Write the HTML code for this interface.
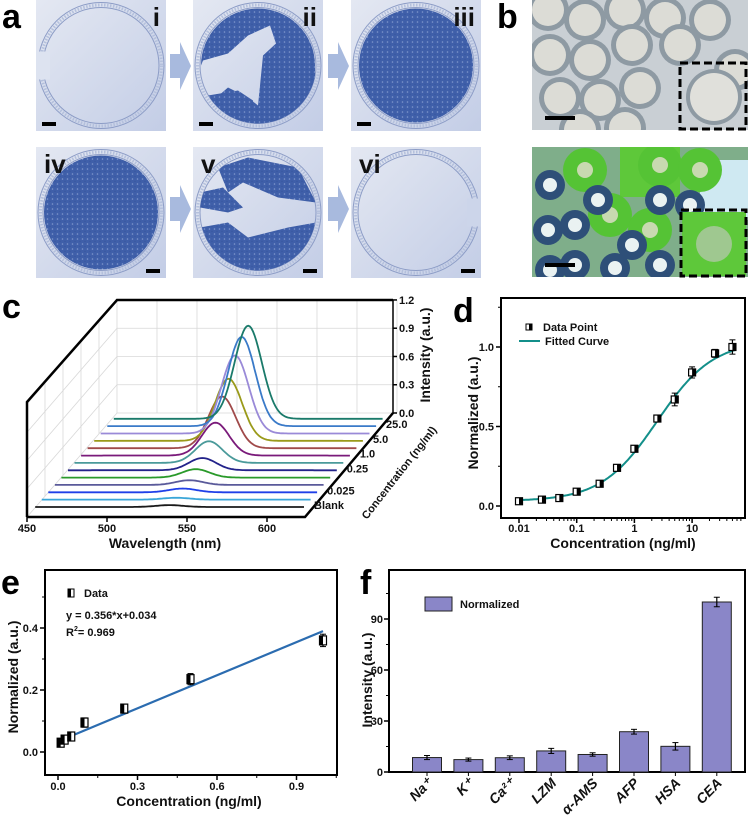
<!DOCTYPE html>
<html><head><meta charset="utf-8">
<style>
html,body{margin:0;padding:0;background:#fff}
svg{display:block;font-family:"Liberation Sans",Arial,sans-serif}
.t{font-weight:bold;font-size:11px;fill:#111}
.ttl{font-weight:bold;font-size:14px;fill:#111}
.lbl{font-weight:bold;font-size:34px;fill:#000}
</style></head>
<body>
<svg id="fig" width="749" height="819" viewBox="0 0 749 819" xmlns="http://www.w3.org/2000/svg">
<defs>
<linearGradient id="bg" x1="0" y1="0" x2="1" y2="1"><stop offset="0" stop-color="#e4e8f2"/><stop offset="1" stop-color="#c3cde6"/></linearGradient>
<pattern id="dots" width="5" height="5" patternUnits="userSpaceOnUse"><rect width="5" height="5" fill="#3f5fa9"/><circle cx="1.5" cy="1.5" r="0.8" fill="#7f97cc"/><circle cx="4" cy="3.8" r="0.5" fill="#2d4c94"/></pattern>
<clipPath id="cl1"><circle cx="0" cy="0" r="58"/></clipPath>
<clipPath id="bt"><rect x="532" y="0" width="216" height="130"/></clipPath>
<clipPath id="bb"><rect x="532" y="147" width="216" height="130"/></clipPath>
</defs>
<g id="panelA"></g>
<g id="panelB"></g>
<g id="panelC"></g>
<g id="panelD"></g>
<g id="panelE"></g>
<g id="panelF"></g>
<text class="lbl" x="2" y="28">a</text>
<text class="lbl" x="497" y="28">b</text>
<text class="lbl" x="2" y="318">c</text>
<text class="lbl" x="453" y="322">d</text>
<text class="lbl" x="1" y="594">e</text>
<text class="lbl" x="360" y="594">f</text>
</svg>
<script>
const NS="http://www.w3.org/2000/svg";
function mk(parent,tag,attrs,text){const e=document.createElementNS(NS,tag);for(const k in attrs)e.setAttribute(k,attrs[k]);if(text!==undefined)e.textContent=text;parent.appendChild(e);return e;}

// ---------- data ----------
const concLabels=["Blank","0.01","0.025","0.05","0.1","0.25","0.5","1.0","2.5","5.0","10","25.0","50"];
const peakHeights=[0.02,0.02,0.04,0.05,0.09,0.13,0.23,0.35,0.55,0.66,0.83,0.95,0.99];
const spectraColors=["#1a1a1a","#3aa6d8","#2040e8","#5a5a9a","#2a9a2a","#23238a","#4a9a9a","#7a1a7a","#a04a4a","#9a9a1a","#9a8ad8","#3a7ac8","#1a7a6a"];
const wlTicks=[450,500,550,600];
const intTicks=[0.0,0.3,0.6,0.9,1.2];

const dConc=[0.01,0.025,0.05,0.1,0.25,0.5,1,2.5,5,10,25,50];
const dVals=[0.03,0.04,0.05,0.09,0.14,0.24,0.36,0.55,0.67,0.84,0.96,1.0];
const dErr=[0.015,0.015,0.015,0.015,0.015,0.02,0.02,0.02,0.04,0.035,0.025,0.045];
const dFit=[0.03,1.04,2.5,0.9]; // A1, A2, x0, p
const dXTicks=[0.01,0.1,1,10];
const dXTickLabels=["0.01","0.1","1","10"];
const dYTicks=[0.0,0.5,1.0];

const eConc=[0.01,0.025,0.05,0.1,0.25,0.5,1.0];
const eVals=[0.03,0.04,0.05,0.095,0.14,0.235,0.36];
const eErr=[0.012,0.012,0.012,0.015,0.012,0.018,0.02];
const eFit=[0.356,0.034];
const eXTicks=[0.0,0.3,0.6,0.9];
const eYTicks=[0.0,0.2,0.4];

const fCats=["Na⁺","K⁺","Ca²⁺","LZM","α-AMS","AFP","HSA","CEA"];
const fVals=[8.5,7.3,8.4,12.4,10.3,23.7,15.1,100];
const fErr=[1.2,0.9,1.1,1.5,1.0,1.4,2.2,2.8];
const fYTicks=[0,30,60,90];

// ---------- panel a ----------
(function(){
 const g=document.getElementById('panelA');
 const xs=[36,193,351], ys=[0,147];
 const labels=["i","ii","iii","iv","v","vi"];
 const fills=["none","partial","full","full","partial2","none"];
 for(let r=0;r<2;r++)for(let c=0;c<3;c++){
  const idx=r*3+c,x=xs[c],y=ys[r],w=130,h=131;
  const im=mk(g,'g',{});
  
  
  mk(im,'rect',{x:x,y:y,width:w,height:h,fill:'url(#bg)'});
  const cx=x+w/2,cy=y+h/2;
  mk(im,'circle',{cx:cx,cy:cy,r:63,fill:'none',stroke:'#8c9cc6','stroke-width':1});
  mk(im,'circle',{cx:cx,cy:cy,r:58,fill:'none',stroke:'#8c9cc6','stroke-width':1});
  mk(im,'circle',{cx:cx,cy:cy,r:60.5,fill:'none',stroke:'#b4c0dc','stroke-width':3,'stroke-dasharray':'1.5 1.5'});
  if(idx===0){mk(im,'rect',{x:x,y:cy-14,width:14,height:28,fill:'#dde3f0'});}
  if(idx===5){mk(im,'rect',{x:x+w-14,y:cy-14,width:14,height:28,fill:'#ccd5ea'});}
  const gg=mk(im,'g',{transform:`translate(${cx},${cy})`});
  if(fills[idx]==='full'){mk(gg,'circle',{cx:0,cy:0,r:57,fill:'url(#dots)'});}
  if(fills[idx]==='partial'){
   mk(gg,'path',{d:'M-57,0 A57,57 0 0 1 57,0 L57,20 A57,57 0 0 1 -45,35 L-30,22 L-10,32 L0,40 L5,-10 L18,-22 L12,-40 L-10,-30 L-30,-12 L-55,-5 Z',fill:'url(#dots)','clip-path':'url(#cl1)'});
   mk(gg,'path',{d:'M-50,30 L-20,25 L-5,35 L-5,55 L-40,50 Z',fill:'url(#dots)','clip-path':'url(#cl1)'});
  }
  if(fills[idx]==='partial2'){
   mk(gg,'path',{d:'M-40,-45 L-10,-55 L40,-45 L58,-10 L20,-15 L-15,-30 L-30,-20 Z',fill:'url(#dots)','clip-path':'url(#cl1)'});
   mk(gg,'path',{d:'M-58,-20 L-35,-25 L-15,-5 L-30,0 L-58,-5 Z',fill:'url(#dots)','clip-path':'url(#cl1)'});
   mk(gg,'path',{d:'M-58,15 L-30,10 L-10,25 L30,15 L58,10 L58,60 L-58,60 Z',fill:'url(#dots)','clip-path':'url(#cl1)'});
  }
  const tl=mk(im,'text',{x:r===0?x+w-6:x+8,y:y+26,'text-anchor':r===0?'end':'start','font-size':26,'font-weight':'bold',fill:'#111'},labels[idx]);
  
  
  const sb=mk(im,'rect',{x:r===0?x+6:x+w-20,y:y+h-9,width:14,height:4,fill:'#000'});
  
  
 }
 for(let r=0;r<2;r++)for(let c=0;c<2;c++){
  const ax=[170,328][c],ay=[66,209][r];
  const ar=mk(g,'path',{d:`M${ax},${ay-12} L${ax+10},${ay-12} L${ax+10},${ay-24} L${ax+21},${ay} L${ax+10},${ay+24} L${ax+10},${ay+12} L${ax},${ay+12} Z`,fill:'#a8bade'});
  
  
 }
})();

// ---------- panel b ----------
(function(){
 const g=document.getElementById('panelB');
 const top=mk(g,'g',{'clip-path':'url(#bt)'});
 
 
 mk(top,'rect',{x:532,y:0,width:216,height:130,fill:'#c9cfd4'});
 const bpos=[[548,10],[585,20],[625,10],[665,18],[710,20],[550,55],[590,60],[632,45],[680,45],[560,98],[600,100],[640,88],[580,130],[625,128],[735,70]];
 bpos.forEach(p=>{mk(top,'circle',{cx:p[0],cy:p[1],r:21,fill:'#8e9aa3'});mk(top,'circle',{cx:p[0],cy:p[1],r:16,fill:'#dcdcd6'});});
 mk(top,'circle',{cx:714,cy:97,r:28,fill:'#8e9aa3'});mk(top,'circle',{cx:714,cy:97,r:24,fill:'#e0e0db'});
 const bot=mk(g,'g',{'clip-path':'url(#bb)'});
 
 
 mk(bot,'rect',{x:532,y:147,width:216,height:130,fill:'#7fae8a'});
 mk(bot,'rect',{x:700,y:160,width:48,height:60,fill:'#cfe9f2'});
 mk(bot,'rect',{x:620,y:147,width:60,height:50,fill:'#5ec83a'});
 const gpos=[[585,170],[660,165],[700,170],[610,215],[650,230]];
 gpos.forEach(p=>{mk(bot,'circle',{cx:p[0],cy:p[1],r:22,fill:'#55c335'});mk(bot,'circle',{cx:p[0],cy:p[1],r:8,fill:'#c8d9b0'});});
 const dpos=[[550,185],[548,230],[575,225],[598,200],[632,245],[660,200],[690,205],[575,265],[615,268],[660,265],[700,235],[550,270]];
 dpos.forEach(p=>{mk(bot,'circle',{cx:p[0],cy:p[1],r:15,fill:'#2e4f78'});mk(bot,'circle',{cx:p[0],cy:p[1],r:7,fill:'#eaf2f2'});});
 mk(bot,'rect',{x:682,y:212,width:64,height:64,fill:'#5ec83a'});
 mk(bot,'circle',{cx:714,cy:244,r:18,fill:'#9fc890'});
 const bx1=mk(g,'rect',{x:680,y:63,width:66,height:66,fill:'none',stroke:'#000','stroke-width':3,'stroke-dasharray':'8 4'});
 
 
 const bx2=mk(g,'rect',{x:681,y:210,width:65,height:66,fill:'none',stroke:'#000','stroke-width':3,'stroke-dasharray':'8 4'});
 
 
 mk(g,'rect',{x:545,y:116,width:30,height:4,fill:'#000'});
 mk(g,'rect',{x:545,y:263,width:30,height:4,fill:'#000'});
})();

// ---------- panel c ----------
(function(){
 const g=document.getElementById('panelC');
 const X=(wl,i)=>32+(wl-450)*1.6+i*6.55;
 const Y=(v,i)=>507-i*7.35-v*94;
 const grid=mk(g,'g',{stroke:'#d8d8d8','stroke-width':0.8,fill:'none'});
 for(let wl=450;wl<=625;wl+=25){const x=117+(wl-450)*1.6;mk(grid,'line',{x1:x,y1:300,x2:x,y2:413});}
 intTicks.forEach(v=>{const y=413-v*94.2;mk(grid,'line',{x1:117,y1:y,x2:393,y2:y});mk(grid,'line',{x1:117,y1:y,x2:27,y2:y+104});});
 for(let k=1;k<5;k++){const x=117-k*18,y=413+k*20.8;mk(grid,'line',{x1:x,y1:y,x2:x,y2:y-113});}
 const fr=mk(g,'g',{stroke:'#000','stroke-width':2.5,fill:'none'});
 mk(fr,'path',{d:'M27,517 L27,402 L117,300 L393,300'});
 mk(fr,'path',{d:'M27,517 L305,517 L393,413'});
 mk(g,'line',{x1:393,y1:300,x2:393,y2:413,stroke:'#000','stroke-width':1.5});
 wlTicks.forEach(wl=>{const x=27+(wl-450)*1.6;mk(g,'line',{x1:x,y1:517,x2:x,y2:522,stroke:'#000','stroke-width':1.5});
  const t=mk(g,'text',{x:x,y:532,'text-anchor':'middle',class:'t','font-size':12},String(wl));
  
  });
 intTicks.forEach(v=>{const y=413-v*94.2;mk(g,'line',{x1:393,y1:y,x2:397,y2:y,stroke:'#000','stroke-width':1.5});
  const t=mk(g,'text',{x:399,y:y+4,class:'t'},v.toFixed(1));
  
  });
 for(let i=0;i<peakHeights.length;i++){
  let d='';
  for(let wl=452;wl<=620;wl+=1){
   const v=peakHeights[i]*Math.exp(-Math.pow(wl-536,2)/(2*8.5*8.5));
   d+=(wl===452?'M':'L')+X(wl,i).toFixed(1)+','+Y(v,i).toFixed(1);
  }
  const p=mk(g,'path',{d:d,fill:'none',stroke:spectraColors[i],'stroke-width':1.8});
  
  
 }
 const cl=[[0,"Blank","#222"],[2,"0.025","#2040e8"],[5,"0.25","#23238a"],[7,"1.0","#7a1a7a"],[9,"5.0","#9a9a1a"],[11,"25.0","#3a7ac8"]];
 cl.forEach(c=>{const t=mk(g,'text',{x:X(620,c[0])+10,y:Y(0,c[0])+2,class:'t','font-size':10,fill:c[2]},c[1]);
  
  });
 const xt=mk(g,'text',{x:165,y:548,'text-anchor':'middle',class:'ttl'},'Wavelength (nm)');
 
 
 const zt=mk(g,'text',{x:0,y:0,'text-anchor':'middle',class:'ttl','font-size':13,transform:'translate(430,355) rotate(-90)'},'Intensity (a.u.)');
 
 
 const yt=mk(g,'text',{x:0,y:0,'text-anchor':'middle',class:'t','font-size':9,transform:'translate(402,475) rotate(-52)'},'Concentration (ng/ml)');
 
 
})();

// ---------- panel d ----------
(function(){
 const g=document.getElementById('panelD');
 const L=501,T=298,R=745,B=518;
 const sx=c=>519+(Math.log10(c)+2)*57.7;
 const sy=v=>506-v*159;
 mk(g,'rect',{x:L,y:T,width:R-L,height:B-T,fill:'none',stroke:'#000','stroke-width':2});
 dXTicks.forEach((c,k)=>{const x=sx(c);mk(g,'line',{x1:x,y1:B,x2:x,y2:B+5,stroke:'#000','stroke-width':1.5});
  for(let m=2;m<10&&c*m<=70;m++){const xm=sx(c*m);if(xm<R)mk(g,'line',{x1:xm,y1:B,x2:xm,y2:B+3,stroke:'#000'});}
  const t=mk(g,'text',{x:x,y:B+14,'text-anchor':'middle',class:'t'},dXTickLabels[k]);
  
  });
 dYTicks.forEach(v=>{const y=sy(v);mk(g,'line',{x1:L-5,y1:y,x2:L,y2:y,stroke:'#000','stroke-width':1.5});
  const t=mk(g,'text',{x:L-7,y:y+4,'text-anchor':'end',class:'t'},v.toFixed(1));
  
  });
 [0.25,0.75,1.25].forEach(v=>mk(g,'line',{x1:L-3,y1:sy(v),x2:L,y2:sy(v),stroke:'#000'}));
 let d='';
 for(let k=0;k<=200;k++){const lc=-2+k*(Math.log10(55)+2)/200;const c=Math.pow(10,lc);
  const v=dFit[1]+(dFit[0]-dFit[1])/(1+Math.pow(c/dFit[2],dFit[3]));
  d+=(k?'L':'M')+sx(c).toFixed(1)+','+sy(v).toFixed(1);}
 const fc=mk(g,'path',{d:d,fill:'none',stroke:'#138f8a','stroke-width':2});
 
 
 dConc.forEach((c,k)=>{const x=sx(c),y=sy(dVals[k]),e=dErr[k]*159;
  const pt=mk(g,'g',{});
  
  
  mk(pt,'line',{x1:x,y1:y-e,x2:x,y2:y+e,stroke:'#000','stroke-width':1.2});
  mk(pt,'line',{x1:x-3,y1:y-e,x2:x+3,y2:y-e,stroke:'#000'});mk(pt,'line',{x1:x-3,y1:y+e,x2:x+3,y2:y+e,stroke:'#000'});
  mk(pt,'rect',{x:x-3.5,y:y-3.5,width:7,height:7,fill:'#fff',stroke:'#000','stroke-width':1.2});
  mk(pt,'rect',{x:x,y:y-3.5,width:3.5,height:7,fill:'#000'});});
 const lg=mk(g,'g',{});
 
 
 mk(lg,'rect',{x:526,y:324,width:6,height:6,fill:'#fff',stroke:'#000'});mk(lg,'rect',{x:529,y:324,width:3,height:6,fill:'#000'});
 mk(lg,'text',{x:543,y:331,class:'t'},'Data Point');
 mk(lg,'line',{x1:519,y1:341,x2:540,y2:341,stroke:'#138f8a','stroke-width':2});
 mk(lg,'text',{x:545,y:345,class:'t'},'Fitted Curve');
 const xt=mk(g,'text',{x:623,y:548,'text-anchor':'middle',class:'ttl'},'Concentration (ng/ml)');
 
 
 const yt=mk(g,'text',{x:0,y:0,'text-anchor':'middle',class:'ttl',transform:'translate(478,413) rotate(-90)'},'Normalized (a.u.)');
 
 
})();

// ---------- panel e ----------
(function(){
 const g=document.getElementById('panelE');
 const L=45,T=570,R=337,B=775;
 const sx=c=>58+c*265;
 const sy=v=>752-v*310;
 mk(g,'rect',{x:L,y:T,width:R-L,height:B-T,fill:'none',stroke:'#000','stroke-width':2});
 eXTicks.forEach(c=>{const x=sx(c);mk(g,'line',{x1:x,y1:B,x2:x,y2:B+5,stroke:'#000','stroke-width':1.5});
  mk(g,'line',{x1:sx(c+0.15),y1:B,x2:sx(c+0.15),y2:B+3,stroke:'#000'});
  const t=mk(g,'text',{x:x,y:B+15,'text-anchor':'middle',class:'t'},c.toFixed(1));
  
  });
 eYTicks.forEach(v=>{const y=sy(v);mk(g,'line',{x1:L-5,y1:y,x2:L,y2:y,stroke:'#000','stroke-width':1.5});
  mk(g,'line',{x1:L-3,y1:sy(v+0.1),x2:L,y2:sy(v+0.1),stroke:'#000'});
  const t=mk(g,'text',{x:L-7,y:y+4,'text-anchor':'end',class:'t'},v.toFixed(1));
  
  });
 const fl=mk(g,'line',{x1:sx(0.01),y1:sy(eFit[1]+eFit[0]*0.01),x2:sx(1.0),y2:sy(eFit[1]+eFit[0]*1.0),stroke:'#2b6cb0','stroke-width':2.2});
 
 
 eConc.forEach((c,k)=>{const x=sx(c),y=sy(eVals[k]),e=eErr[k]*310;
  const pt=mk(g,'g',{});
  
  
  mk(pt,'line',{x1:x,y1:y-e,x2:x,y2:y+e,stroke:'#000','stroke-width':1.2});
  mk(pt,'line',{x1:x-3,y1:y-e,x2:x+3,y2:y-e,stroke:'#000'});mk(pt,'line',{x1:x-3,y1:y+e,x2:x+3,y2:y+e,stroke:'#000'});
  mk(pt,'rect',{x:x-3.5,y:y-4.5,width:7,height:9,fill:'#fff',stroke:'#000','stroke-width':1.2});
  mk(pt,'rect',{x:x-3.5,y:y-4.5,width:3.5,height:9,fill:'#000'});});
 const lg=mk(g,'g',{});
 
 
 mk(lg,'rect',{x:68,y:589,width:6,height:8,fill:'#fff',stroke:'#000'});mk(lg,'rect',{x:68,y:589,width:3,height:8,fill:'#000'});
 mk(lg,'text',{x:84,y:597,class:'t'},'Data');
 mk(lg,'text',{x:66,y:619,class:'t'},'y = 0.356*x+0.034');
 const r2=mk(lg,'text',{x:66,y:636,class:'t'},'');
 mk(r2,'tspan',{},'R');mk(r2,'tspan',{'font-size':7,dy:-5},'2');mk(r2,'tspan',{dy:5},'= 0.969');
 const xt=mk(g,'text',{x:189,y:806,'text-anchor':'middle',class:'ttl'},'Concentration (ng/ml)');
 
 
 const yt=mk(g,'text',{x:0,y:0,'text-anchor':'middle',class:'ttl',transform:'translate(18,677) rotate(-90)'},'Normalized (a.u.)');
 
 
})();

// ---------- panel f ----------
(function(){
 const g=document.getElementById('panelF');
 const L=389,T=570,R=745,B=772;
 const sy=v=>B-v*1.7;
 const step=41.4,x0=427,bw=29;
 mk(g,'rect',{x:L,y:T,width:R-L,height:B-T,fill:'none',stroke:'#000','stroke-width':2});
 fYTicks.forEach(v=>{const y=sy(v);mk(g,'line',{x1:L-5,y1:y,x2:L,y2:y,stroke:'#000','stroke-width':1.5});
  mk(g,'line',{x1:L-3,y1:sy(v+15),x2:L,y2:sy(v+15),stroke:'#000'});
  const t=mk(g,'text',{x:L-6,y:y+4,'text-anchor':'end',class:'t'},String(v));
  
  });
 fCats.forEach((c,k)=>{const cx=x0+k*step,y=sy(fVals[k]),e=fErr[k]*1.7;
  const b=mk(g,'rect',{x:cx-bw/2,y:y,width:bw,height:B-y,fill:'#8a86c8',stroke:'#222','stroke-width':1});
  
  
  mk(g,'line',{x1:cx,y1:y-e,x2:cx,y2:y+e,stroke:'#000','stroke-width':1.2});
  mk(g,'line',{x1:cx-3,y1:y-e,x2:cx+3,y2:y-e,stroke:'#000'});mk(g,'line',{x1:cx-3,y1:y+e,x2:cx+3,y2:y+e,stroke:'#000'});
  mk(g,'line',{x1:cx,y1:B,x2:cx,y2:B+4,stroke:'#000'});
  const t=mk(g,'text',{x:0,y:0,'text-anchor':'end',class:'ttl','font-style':'italic','font-size':13,transform:`translate(${cx+6},${B+12}) rotate(-45)`},c);
  
  });
 const lg=mk(g,'g',{});
 
 
 mk(lg,'rect',{x:425,y:597,width:27,height:14,fill:'#8a86c8',stroke:'#222'});
 mk(lg,'text',{x:460,y:608,class:'t'},'Normalized');
 const yt=mk(g,'text',{x:0,y:0,'text-anchor':'middle',class:'ttl',transform:'translate(372,680) rotate(-90)'},'Intensity (a.u.)');
 
 
})();
</script>
</body></html>
